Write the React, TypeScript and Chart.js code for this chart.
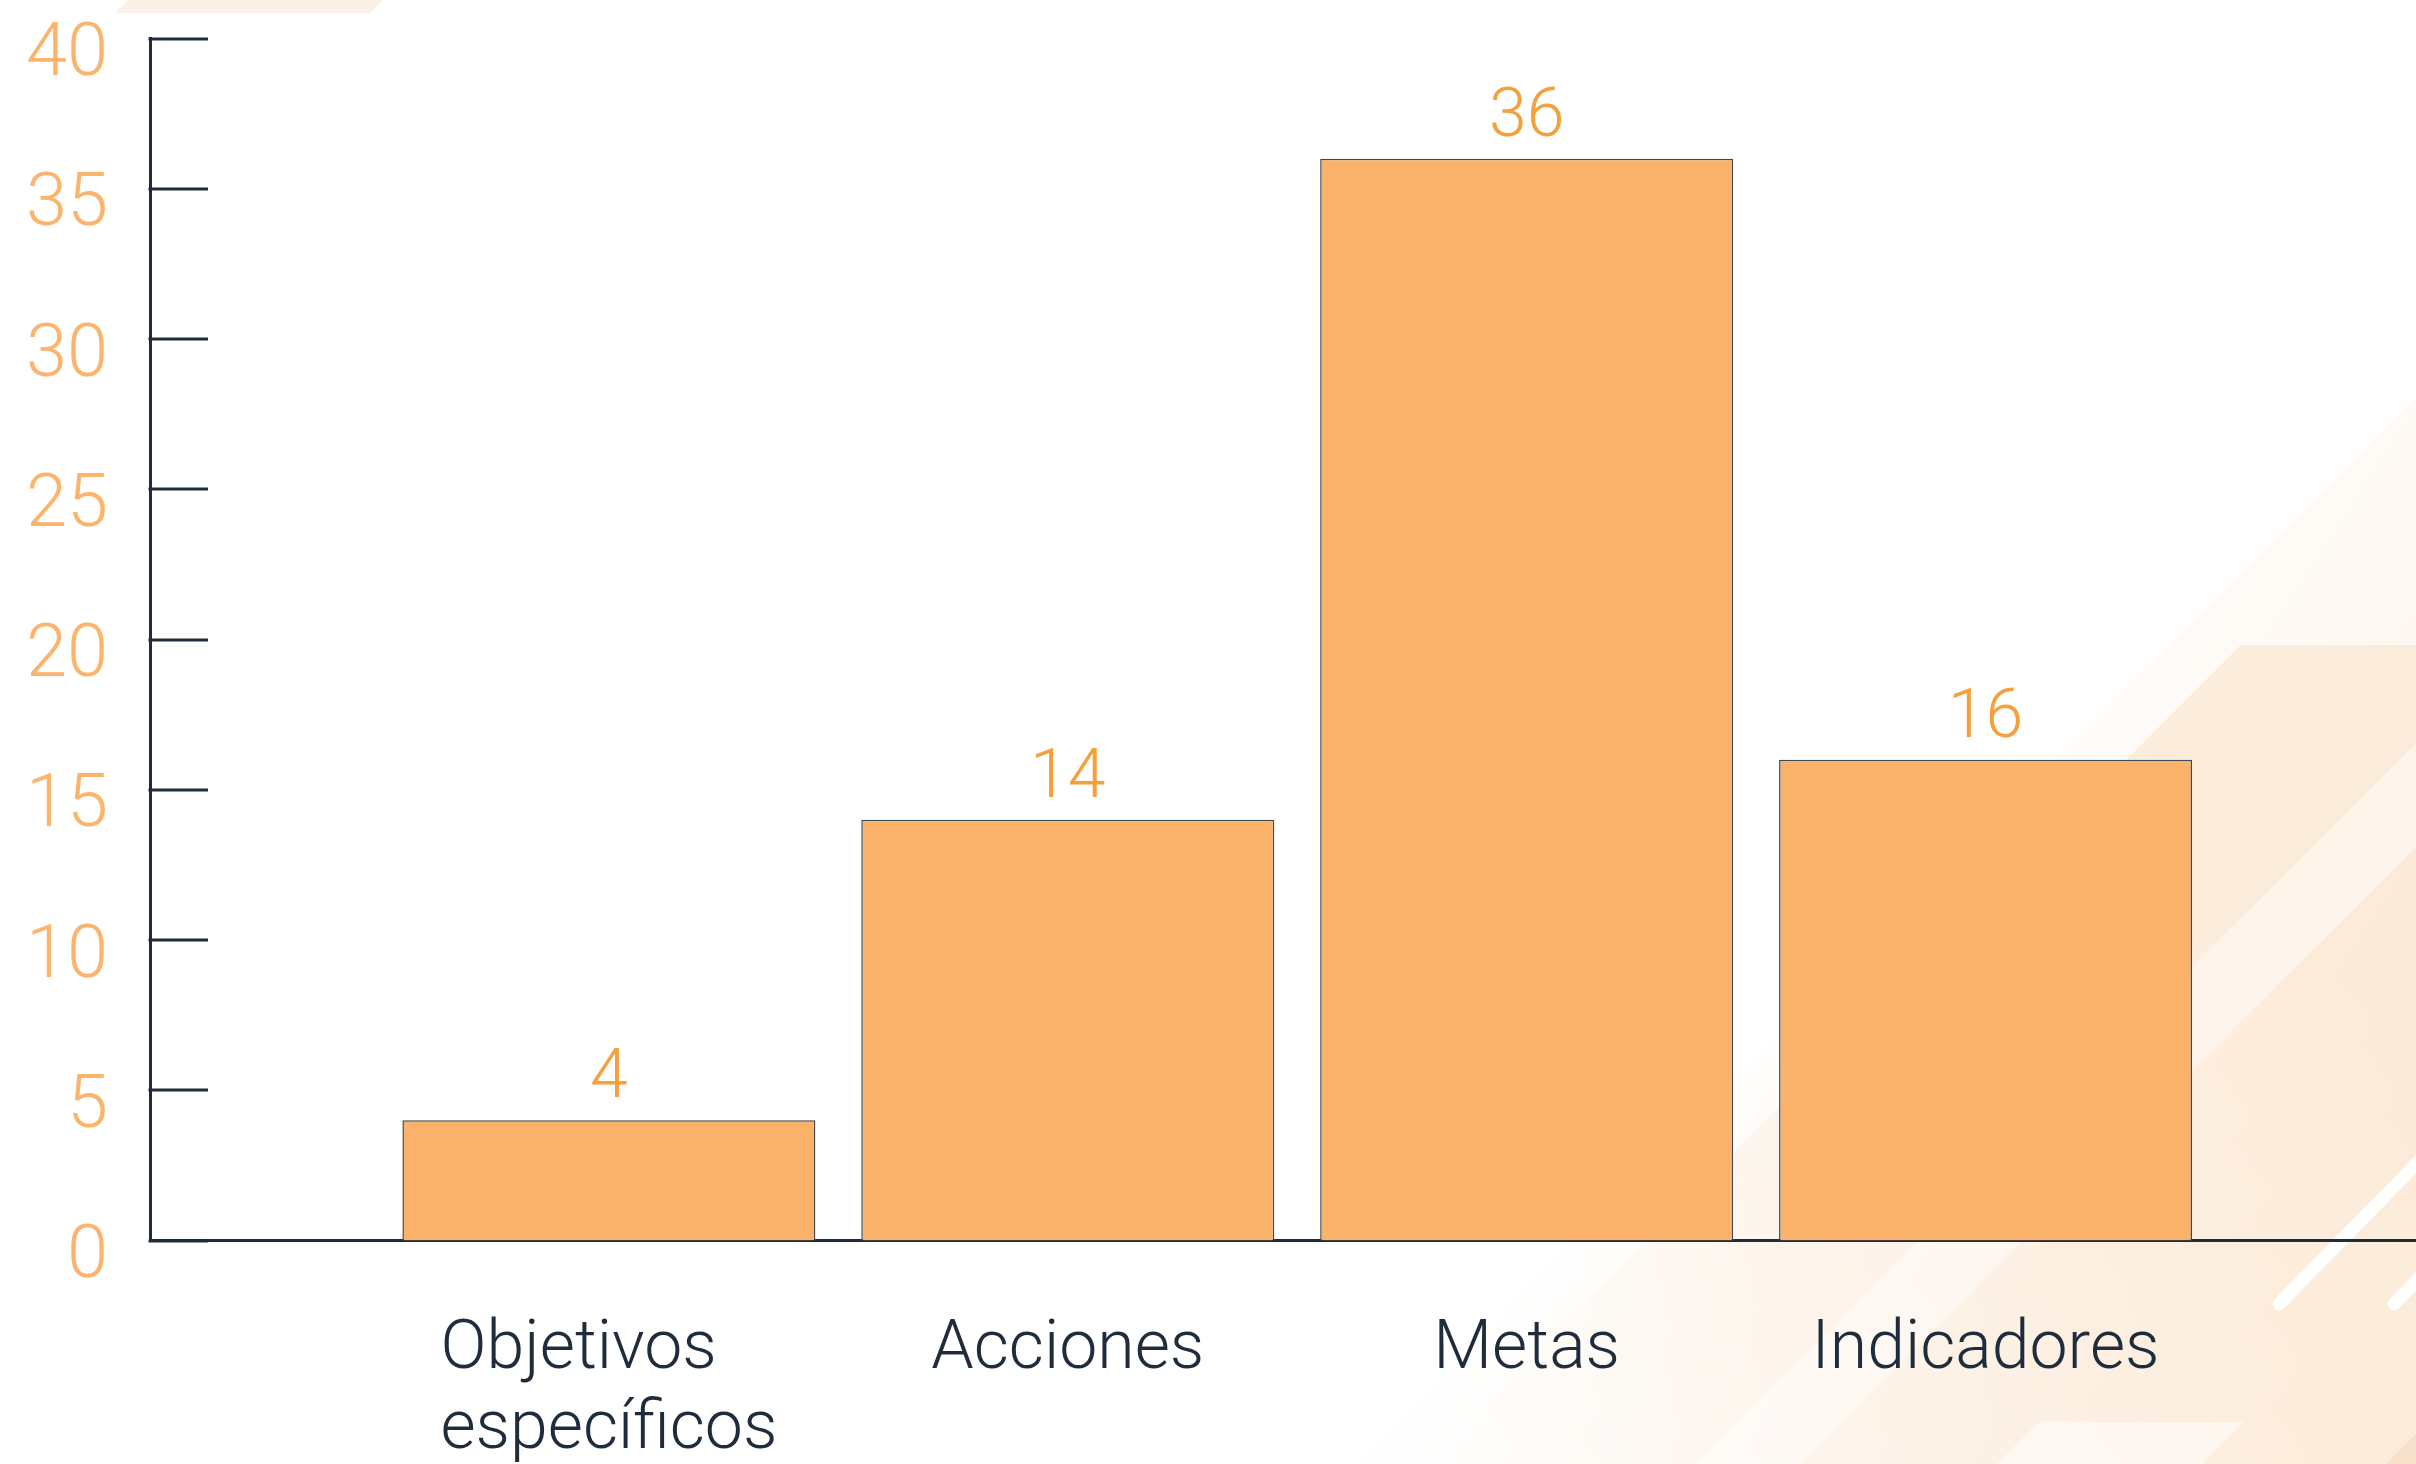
import React, { useEffect, useRef } from "react";
import { Chart, registerables } from "chart.js";

Chart.register(...registerables);

// ---- Data ----
const categories: (string | string[])[] = [["Objetivos", "específicos"], "Acciones", "Metas", "Indicadores"];
const values: number[] = [4, 14, 36, 16];
const yMin = 0;
const yMax = 40;
const yStep = 5;

// ---- Styles ----
const BAR_FILL = "#FAB26A";
const BAR_BORDER = "#3D4852";
const AXIS_COLOR = "#1F2D3B";
const Y_LABEL_COLOR = "#FCB46C";
const VALUE_COLOR = "#F5A03A";
const X_LABEL_COLOR = "#1F2C3B";
const FONT = "Roboto, 'Noto Sans', sans-serif";

const backgroundPlugin = {
  id: "bgDecor",
  beforeDraw(chart: any) {
    const { ctx, width: w, height: h } = chart;
    const sx = w / 2416;
    const sy = h / 1464;
    const P = (x: number, y: number): [number, number] => [x * sx, y * sy];
    const poly = (pts: [number, number][], fill: any) => {
      ctx.beginPath();
      pts.forEach(([x, y], i) => (i ? ctx.lineTo(x, y) : ctx.moveTo(x, y)));
      ctx.closePath();
      ctx.fillStyle = fill;
      ctx.fill();
    };
    ctx.save();
    ctx.fillStyle = "#ffffff";
    ctx.fillRect(0, 0, w, h);

    // top-left band
    poly([P(128, 0), P(383, 0), P(370, 13), P(115, 13)], "#FCF1E6");

    // faint large diagonal area
    const g1 = ctx.createLinearGradient(...P(1700, 1000), ...P(2416, 1464));
    g1.addColorStop(0, "rgba(251,230,208,0.02)");
    g1.addColorStop(1, "rgba(251,230,208,0.6)");
    poly([P(2416, 397), P(2416, 1464), P(1349, 1464)], g1);

    // main peach shape
    const g2 = ctx.createLinearGradient(...P(1450, 1464), ...P(2250, 850));
    g2.addColorStop(0, "rgba(251,232,212,0)");
    g2.addColorStop(1, "rgba(251,232,212,0.8)");
    poly([P(2241, 645), P(2416, 645), P(2416, 1464), P(1422, 1464)], g2);

    // lighter translucent band inside the shape
    poly([P(2416, 743), P(2416, 847), P(1799, 1464), P(1695, 1464)], "rgba(255,255,255,0.45)");

    // darker corner
    poly([P(2416, 1434), P(2416, 1464), P(2386, 1464)], "rgba(248,222,196,0.8)");

    // bottom light parallelogram
    poly([P(2039, 1422), P(2244, 1422), P(2202, 1464), P(1997, 1464)], "rgba(255,255,255,0.55)");

    // white strokes
    ctx.strokeStyle = "rgba(255,255,255,0.97)";
    ctx.lineCap = "round";
    ctx.lineWidth = 13 * sx;
    ctx.beginPath();
    ctx.moveTo(...P(2279, 1304));
    ctx.lineTo(...P(2430, 1150));
    ctx.moveTo(...P(2394, 1304));
    ctx.lineTo(...P(2430, 1267));
    ctx.stroke();
    ctx.restore();
  },
};

const innerTicksPlugin = {
  id: "innerTicks",
  afterDraw(chart: any) {
    const { ctx, chartArea } = chart;
    const yScale = chart.scales.y;
    ctx.save();
    ctx.strokeStyle = AXIS_COLOR;
    ctx.lineWidth = 3;
    ctx.lineCap = "butt";
    yScale.ticks.forEach((t: any) => {
      const y = Math.round(yScale.getPixelForValue(t.value));
      ctx.beginPath();
      ctx.moveTo(chartArea.left - 1.5, y);
      ctx.lineTo(chartArea.left + 58, y);
      ctx.stroke();
    });
    ctx.restore();
  },
};

const xLabelsPlugin = {
  id: "xLabels",
  afterDraw(chart: any) {
    const { ctx } = chart;
    const xScale = chart.scales.x;
    ctx.save();
    ctx.font = `300 68px ${FONT}`;
    ctx.fillStyle = X_LABEL_COLOR;
    ctx.textAlign = "left";
    ctx.textBaseline = "alphabetic";
    categories.forEach((c, i) => {
      const lines = Array.isArray(c) ? c : [c];
      const cx = xScale.getPixelForValue(i + 1);
      const maxW = Math.max(...lines.map((l) => ctx.measureText(l).width));
      const left = cx - maxW / 2;
      lines.forEach((l, j) => {
        ctx.fillText(l, left, xScale.top + 127.5 + j * 80);
      });
    });
    ctx.restore();
  },
};

const valueLabelsPlugin = {
  id: "valueLabels",
  afterDatasetsDraw(chart: any) {
    const { ctx } = chart;
    const meta = chart.getDatasetMeta(0);
    ctx.save();
    ctx.font = `300 68px ${FONT}`;
    ctx.fillStyle = VALUE_COLOR;
    ctx.textAlign = "center";
    ctx.textBaseline = "alphabetic";
    meta.data.forEach((el: any, i: number) => {
      ctx.fillText(String(values[i]), el.x, el.y - 23);
    });
    ctx.restore();
  },
};

export default function App() {
  const canvasRef = useRef<HTMLCanvasElement | null>(null);

  useEffect(() => {
    if (!canvasRef.current) return;
    const chart = new Chart(canvasRef.current, {
      type: "bar",
      data: {
        datasets: [
          {
            data: values.map((v, i) => ({ x: i + 1, y: v })),
            backgroundColor: BAR_FILL,
            borderColor: BAR_BORDER,
            borderWidth: 1.5,
            barPercentage: 0.9,
            categoryPercentage: 1,
          },
        ],
      },
      options: {
        animation: false,
        responsive: true,
        maintainAspectRatio: false,
        layout: { padding: { top: 38.5, right: 0, bottom: 0, left: 0 } },
        plugins: { legend: { display: false }, tooltip: { enabled: false } },
        scales: {
          x: {
            type: "linear",
            offset: false,
            min: 0,
            max: 4.938,
            grid: { display: false, drawTicks: false, offset: false },
            border: { display: true, color: AXIS_COLOR, width: 3 },
            ticks: { display: false },
            afterBuildTicks: (s: any) => {
              s.ticks = categories.map((_, i) => ({ value: i + 1 }));
            },
            afterFit: (s: any) => {
              s.height = 1464 - 1240.5;
              s.paddingLeft = 0;
              s.paddingRight = 0;
            },
          },
          y: {
            min: yMin,
            max: yMax,
            grid: { display: false, drawTicks: false },
            border: { display: true, color: AXIS_COLOR, width: 3 },
            ticks: {
              stepSize: yStep,
              color: Y_LABEL_COLOR,
              font: { family: FONT, size: 74, weight: "300" },
              padding: 42,
              labelOffset: 18,
            },
            afterFit: (s: any) => {
              s.width = 150;
              s.paddingTop = 0;
              s.paddingBottom = 0;
            },
          },
        },
      } as any,
      plugins: [backgroundPlugin, innerTicksPlugin, xLabelsPlugin, valueLabelsPlugin],
    });
    return () => chart.destroy();
  }, []);

  return (
    <div style={{ position: "absolute", left: 0, top: 0, width: 2416, height: 1464, overflow: "hidden" }}>
      <canvas ref={canvasRef} />
    </div>
  );
}
